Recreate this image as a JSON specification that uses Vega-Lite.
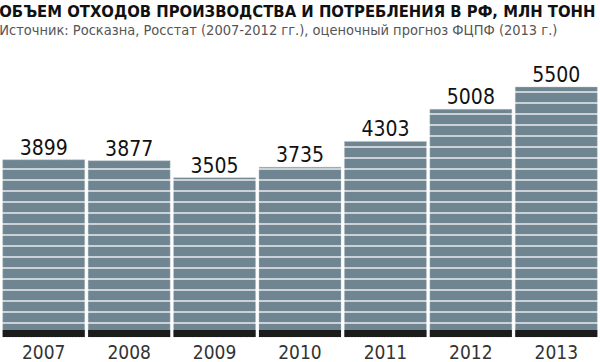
{
  "$schema": "https://vega.github.io/schema/vega-lite/v6.json",
  "width": 598,
  "height": 287,
  "autosize": {"type": "none"},
  "padding": {"left": 1, "top": 50, "right": 1, "bottom": 25},
  "background": "white",
  "config": {"view": {"stroke": null}},
  "title": {
    "text": "ОБЪЕМ ОТХОДОВ ПРОИЗВОДСТВА И ПОТРЕБЛЕНИЯ В РФ, МЛН ТОНН",
    "subtitle": "Источник: Росказна, Росстат (2007-2012 гг.), оценочный прогноз ФЦПФ (2013 г.)",
    "anchor": "start",
    "frame": "bounds",
    "dx": -1,
    "offset": 13,
    "font": "DejaVu Sans Condensed",
    "fontSize": 16.5,
    "fontWeight": "bold",
    "color": "#111111",
    "subtitleFont": "DejaVu Sans Condensed",
    "subtitleFontSize": 14.5,
    "subtitleColor": "#555555",
    "subtitlePadding": 3
  },
  "datasets": {
    "waste": [
      {"year": "2007", "value": 3899},
      {"year": "2008", "value": 3877},
      {"year": "2009", "value": 3505},
      {"year": "2010", "value": 3735},
      {"year": "2011", "value": 4303},
      {"year": "2012", "value": 5008},
      {"year": "2013", "value": 5500}
    ],
    "stripes": [
      {"level": 308}, {"level": 550}, {"level": 792}, {"level": 1034}, {"level": 1276},
      {"level": 1518}, {"level": 1760}, {"level": 2002}, {"level": 2244}, {"level": 2486},
      {"level": 2728}, {"level": 2970}, {"level": 3212}, {"level": 3454}, {"level": 3696},
      {"level": 3938}, {"level": 4180}, {"level": 4422}, {"level": 4664}, {"level": 4906},
      {"level": 5148}, {"level": 5390}
    ]
  },
  "layer": [
    {
      "data": {"name": "waste"},
      "mark": {"type": "bar", "color": "#6f8591", "stroke": "#b8c2c8", "strokeWidth": 0.6, "strokeDash": [2, 1]},
      "encoding": {
        "x": {
          "field": "year", "type": "ordinal",
          "scale": {"paddingInner": 0.04, "paddingOuter": 0.02},
          "axis": {
            "title": null, "domain": false, "ticks": false,
            "labelAngle": 0, "labelFont": "DejaVu Sans Condensed",
            "labelFontSize": 19, "labelColor": "#333333", "labelPadding": 6
          }
        },
        "y": {
          "field": "value", "type": "quantitative",
          "scale": {"domain": [0, 6314], "nice": false},
          "axis": null
        }
      }
    },
    {
      "data": {"name": "waste"},
      "mark": {"type": "bar", "color": "#1c1c1c"},
      "encoding": {
        "x": {"field": "year", "type": "ordinal"},
        "y": {"datum": 154, "type": "quantitative"}
      }
    },
    {
      "data": {"name": "stripes"},
      "mark": {"type": "rule", "color": "#ffffff", "strokeWidth": 1.6, "opacity": 0.85},
      "encoding": {
        "y": {"field": "level", "type": "quantitative"}
      }
    },
    {
      "data": {"name": "waste"},
      "mark": {
        "type": "text", "baseline": "alphabetic", "dy": -5,
        "font": "DejaVu Sans Condensed", "fontSize": 21, "color": "#111111"
      },
      "encoding": {
        "x": {"field": "year", "type": "ordinal"},
        "y": {"field": "value", "type": "quantitative"},
        "text": {"field": "value", "type": "quantitative", "format": "d"}
      }
    }
  ]
}
